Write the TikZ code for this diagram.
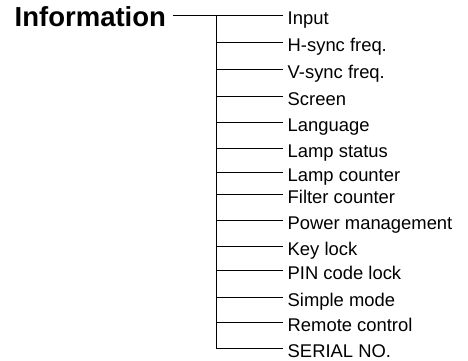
\documentclass[tikz,border=0pt]{standalone}
\usepackage{fontspec}
\setmainfont{Liberation Sans}
\usepackage{tikz}
\usetikzlibrary{calc}

\tikzset{
  root/.style={anchor=base west, inner sep=0pt, font=\fontsize{27.5}{31}\selectfont\bfseries},
  item/.style={anchor=base west, inner sep=0pt, font=\fontsize{18.4}{20}\selectfont},
  branch/.style={line width=1pt, black}
}

\begin{document}
\begin{tikzpicture}[x=1pt, y=-1pt]
            \useasboundingbox (0,0) rectangle (468,360);
            \node[root] (info) at (14.5,26.7) {Information};
            \coordinate (start) at (173,15);
            % branch points on the trunk
            \foreach \y/\t [count=\i] in {15/Input, 42/H-sync freq., 69/V-sync freq., 96/Screen,
                122/Language, 148/Lamp status, 172/Lamp counter, 194/Filter counter,
                220/Power management, 246/Key lock, 270/PIN code lock, 297/Simple mode,
                322/Remote control, 348/SERIAL NO.}{
                \coordinate (b\i) at (216,\y);
                \node[item] (l\i) at (287.5,\y+9.5) {\t};
                \draw[branch] (b\i) -- ([xshift=-5pt]b\i -| l\i.west);
            }
            \draw[branch] (start) -- (b1);
            \draw[branch] (b1) -- (b14);
            %\draw[branch, dashed] (info.south) -- (b14);
        \end{tikzpicture}
\end{document}
